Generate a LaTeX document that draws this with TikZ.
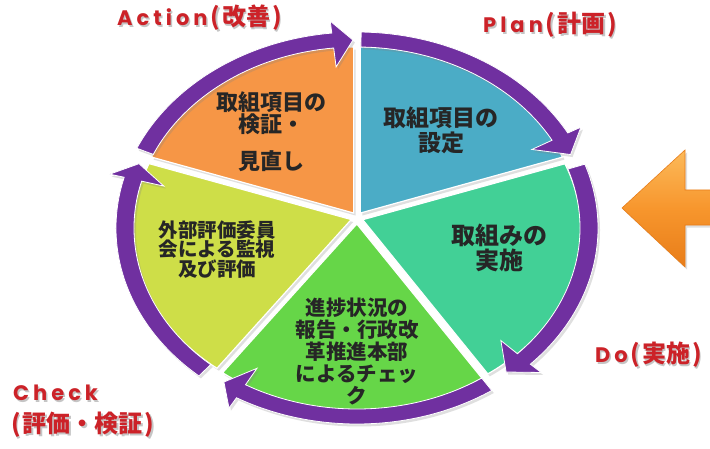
\documentclass[tikz,border=0pt]{standalone}
\usepackage{fontspec}
\setmainfont{Noto Sans CJK JP}
\newfontfamily\ltn{Poppins}
\usetikzlibrary{calc,shadows}
\definecolor{pur}{RGB}{112,48,160}
\definecolor{cblue}{RGB}{75,172,198}
\definecolor{cteal}{RGB}{66,208,150}
\definecolor{clime}{RGB}{102,214,72}
\definecolor{cyel}{RGB}{206,222,72}
\definecolor{corg}{RGB}{246,150,70}
\definecolor{tred}{RGB}{204,34,40}
\definecolor{aorgL}{RGB}{252,186,90}
\definecolor{aorg}{RGB}{247,150,45}
\definecolor{aorgD}{RGB}{232,125,25}
\newcommand\lsp{\kern4pt}
\newcommand\latn[1]{{\ltn\fontsize{21}{24}\selectfont #1}}
\newcommand\lpar{\kern3pt(\kern2pt}
\newcommand\rpar{\kern2pt)}
\newcommand\pieseg[4]{%
  \fill[#4, draw=white, line width=1.2pt, segshadow]
   ($(A)+(#3:6)$) -- ($(E)+(#3:6)+({218*cos(#1)},{176*sin(#1)})$)
   arc[start angle=#1, end angle=#2, x radius=218pt, y radius=176pt] -- cycle;}
\newcommand\ringarrow[3]{%
  \fill[pur, draw=white, line width=0.8pt, segshadow]
   ($(E)+({241*cos(#1)},{196*sin(#1)})$)
   arc[start angle=#1, end angle=#2, x radius=241pt, y radius=196pt]
   -- ($(E)+({256*cos(#2)},{208*sin(#2)})$)
   -- ($(E)+({232*cos(#3)},{188*sin(#3)})$)
   -- ($(E)+({200*cos(#2)},{162*sin(#2)})$)
   -- ($(E)+({223*cos(#2)},{181*sin(#2)})$)
   arc[start angle=#2, end angle=#1, x radius=223pt, y radius=181pt] -- cycle;}
\begin{document}
\begin{tikzpicture}[x=1pt,y=1pt,
  segshadow/.style={drop shadow={shadow xshift=2pt,shadow yshift=-2.5pt,opacity=0.25}},
  lbl/.style={align=center,inner sep=0pt,text=black!85},
  ttl/.style={inner sep=0pt,text=tred,font=\fontsize{24}{26}\selectfont\bfseries},
  ttlsh/.style={inner sep=0pt,text=black!50,opacity=0.45,font=\fontsize{24}{26}\selectfont\bfseries}]
\useasboundingbox (0,0) rectangle (710,448);
\fill[white] (0,0) rectangle (710,448);
\coordinate (A) at (357,230);
\coordinate (E) at (357,220);
% pie segments
\pieseg{22}{90}{56}{cblue}
\pieseg{-55}{22}{-16.5}{cteal}
\pieseg{-128}{-55}{-91.5}{clime}
\pieseg{158}{232}{195}{cyel}
\pieseg{90}{158}{124}{corg}
% ring arrows
\ringarrow{89}{29}{23}
\ringarrow{19}{-44}{-50}
\ringarrow{-56}{-120}{-125}
\ringarrow{-131}{-195}{-200}
\ringarrow{156}{96}{91}
% big orange arrow at right
\shade[top color=aorgL, bottom color=aorgD, middle color=aorg, draw=aorgD, line width=0.6pt, segshadow]
  (622,240) -- (685,298) -- (685,258) -- (712,258) -- (712,223) -- (685,223) -- (685,181) -- cycle;
% segment labels
\node[lbl, font=\fontsize{22}{20}\selectfont\bfseries] (torg) at (271,316) {取組項目の\\検証・\\[15pt]見直し};
\node[lbl, font=\fontsize{23}{25}\selectfont\bfseries] (tblue) at (441,317.5) {取組項目の\\設定};
\node[lbl, font=\fontsize{24}{25}\selectfont\bfseries] (tteal) at (499,200.5) {取組みの\\実施};
\node[lbl, font=\fontsize{19.5}{19.5}\selectfont\bfseries] (tyel) at (217,198.5) {外部評価委員\\会による監視\\及び評価};
\node[lbl, font=\fontsize{20.5}{22}\selectfont\bfseries] (tlime) at (357,96.5) {進捗状況の\\報告・行政改\\革推進本部\\によるチェッ\\ク};
% titles (shadow + text)
\node[ttlsh, anchor=west] (actS) at (118.5,428.5) {\latn{A\lsp c\lsp t\lsp i\lsp o\lsp n}\lpar 改善\rpar};
\node[ttl, anchor=west] (act) at (117,430) {\latn{A\lsp c\lsp t\lsp i\lsp o\lsp n}\lpar 改善\rpar};
\node[ttlsh, anchor=west] (plnS) at (484.5,421.5) {\latn{P\lsp l\lsp a\lsp n}\lpar 計画\rpar};
\node[ttl, anchor=west] (pln) at (483,423) {\latn{P\lsp l\lsp a\lsp n}\lpar 計画\rpar};
\node[ttlsh, anchor=west] (doS) at (596.5,91.5) {\latn{D\lsp o}\lpar 実施\rpar};
\node[ttl, anchor=west] (do) at (595,93) {\latn{D\lsp o}\lpar 実施\rpar};
\node[ttlsh, anchor=west] (chkS) at (14.5,53.5) {\latn{C\lsp h\lsp e\lsp c\lsp k}};
\node[ttl, anchor=west] (chk) at (13,55) {\latn{C\lsp h\lsp e\lsp c\lsp k}};
\node[ttlsh, anchor=west] (chk2S) at (12.5,21.5) {(\kern2pt 評価・検証\rpar};
\node[ttl, anchor=west] (chk2) at (11,23) {(\kern2pt 評価・検証\rpar};
\end{tikzpicture}
\end{document}
